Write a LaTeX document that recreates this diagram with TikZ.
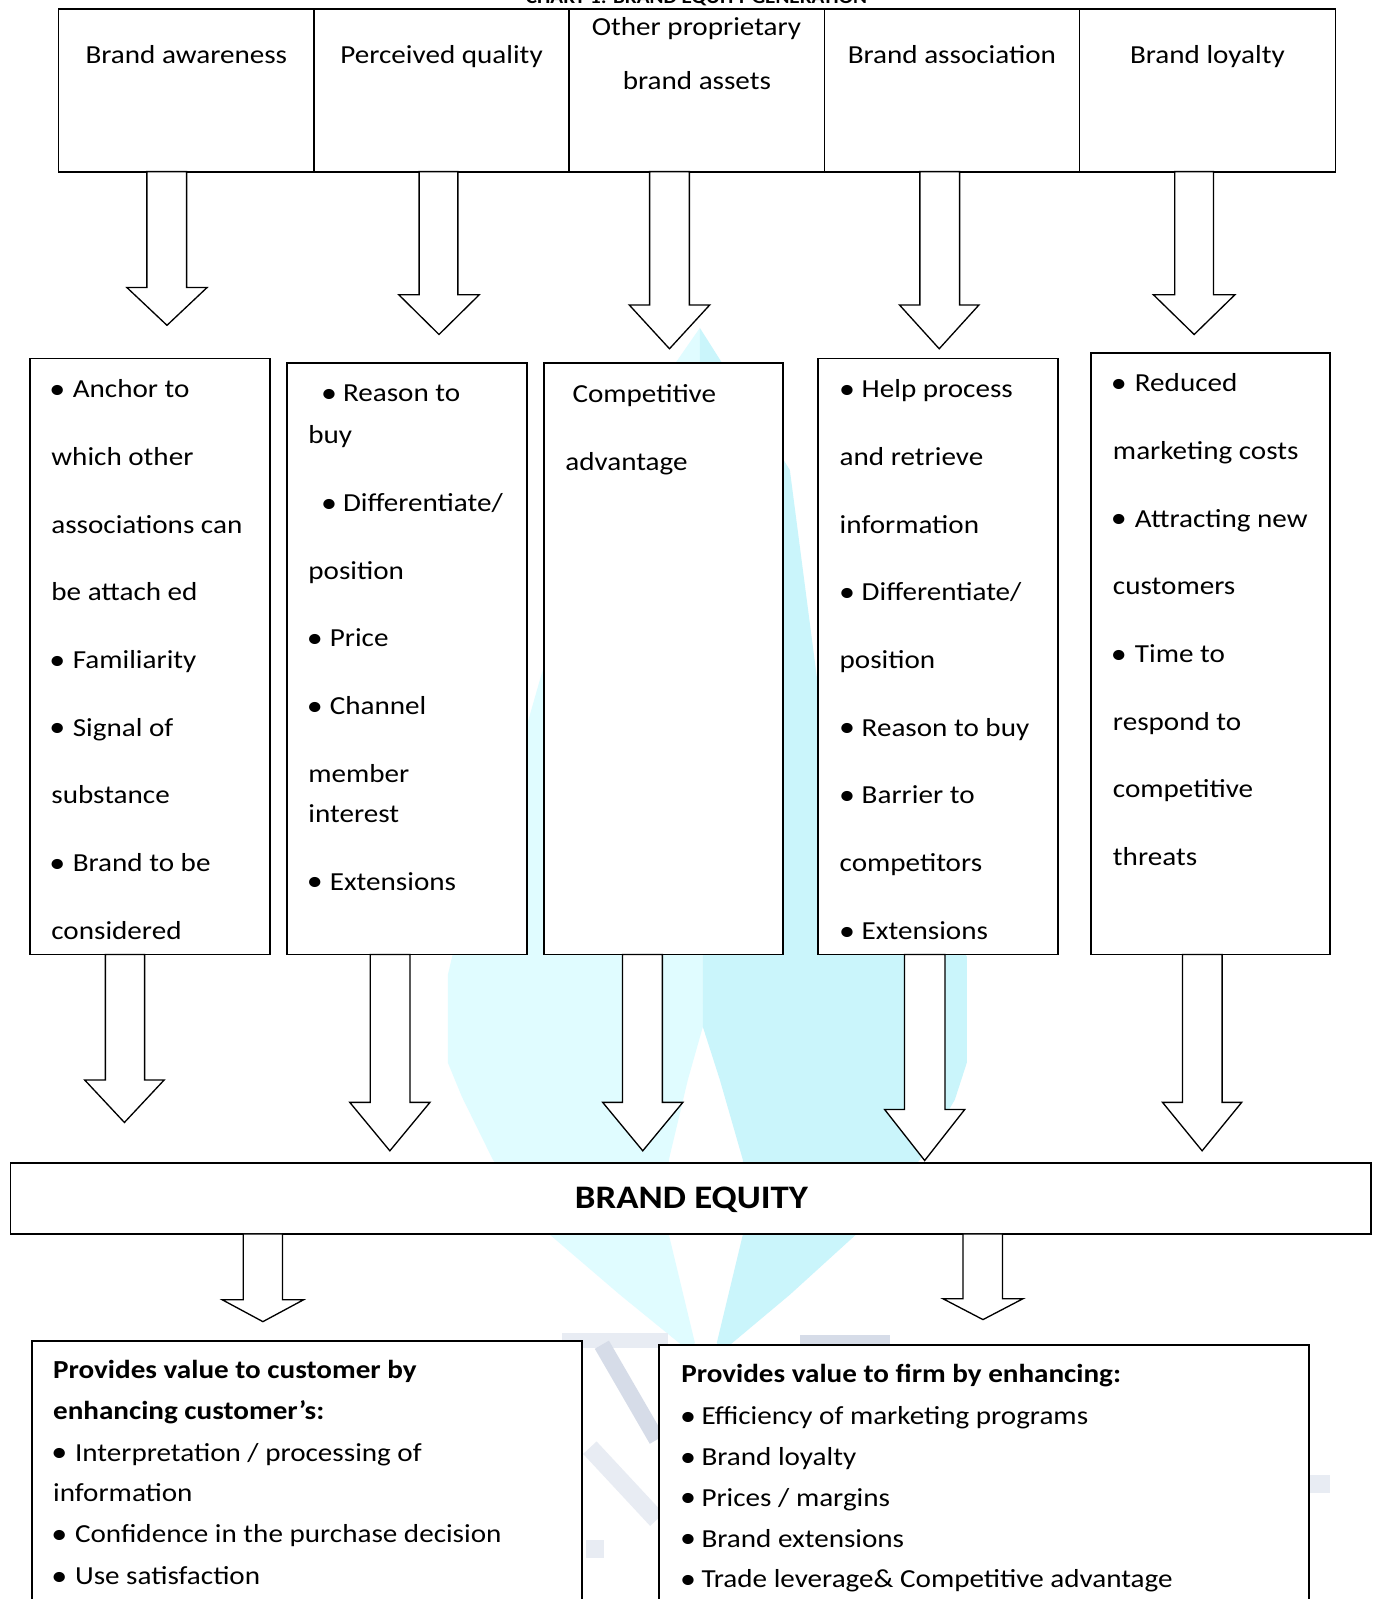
\documentclass[tikz,border=0pt]{standalone}
\usepackage{fontspec}
\setmainfont{Carlito}[FakeStretch=1.12]
\usetikzlibrary{fit}

\definecolor{wmleft}{RGB}{224,252,255}
\definecolor{wmright}{RGB}{202,245,251}
\definecolor{wmgray}{RGB}{214,220,232}
\definecolor{wmgraylt}{RGB}{232,236,243}

\tikzset{
  x=0.5pt, y=-0.5pt,
  frame/.style={draw=black, line width=0.9pt, fill=white, inner sep=0pt, outer sep=0pt},
  thinframe/.style={frame, line width=0.7pt},
  blockarr/.style={draw=black, line width=0.65pt, fill=white, line join=miter},
  body/.style={anchor=base west, inner sep=0pt, font=\fontsize{12.75}{15}\selectfont},
  bodyb/.style={body, font=\fontsize{12.75}{15}\selectfont\bfseries},
  head/.style={anchor=base, inner sep=0pt, font=\fontsize{12.75}{15}\selectfont},
}

% a plain text line
\newcommand\tline[4]{\node[body] (#1) at (#2,#3) {#4};}
% a bulleted text line: bullet x, text x, baseline
\newcommand\bline[5]{%
  \node[body] (#1b) at (#2-1,#4) {\raisebox{-0.3pt}{\fontsize{14}{14}\selectfont •}};
  \node[body] (#1) at (#3,#4) {#5};}
% a rectangular panel spanning two corners
\newcommand\panel[5]{\node[frame, fit={(#2,#3) (#4,#5)}] (#1) {};}
% a hollow block arrow pointing down from a node
\newcommand\blockdown[7]{%
  \draw[blockarr] (#2,0 |- #1.south) -- (#2,#4) -- (#5,#4) -- ({(#5+#6)/2},#7)
    -- (#6,#4) -- (#3,#4) -- (#3,0 |- #1.south) -- cycle;}

\begin{document}
\begin{tikzpicture}
\useasboundingbox (0,0) rectangle (1351,1568);
\fill[white] (0,0) rectangle (1351,1568);

% faint background emblem
\begin{scope}[scale=0.98039]
  \fill[wmleft] (700,328) -- (650,400) -- (590,520) -- (540,680) -- (500,820)
    -- (462,915) -- (448,975) -- (448,1063) -- (462,1097) -- (493,1160)
    -- (550,1235) -- (620,1295) -- (690,1352) -- (695,1343) -- (669,1235)
    -- (669,1160) -- (688,1080) -- (703,1027) -- cycle;
  \fill[wmright] (700,328) -- (703,1027) -- (720,1080) -- (743,1160) -- (743,1235)
    -- (717,1343) -- (722,1352) -- (790,1295) -- (856,1235) -- (920,1160)
    -- (955,1100) -- (967,1063) -- (967,957) -- (930,870) -- (870,780)
    -- (820,700) -- (790,470) -- cycle;
  \fill[wmgraylt] (562,1333) rectangle (668,1348);
  \fill[wmgray] (800,1335) rectangle (890,1346);
  \draw[wmgray, line width=8pt] (602,1345) -- (657,1440);
  \draw[wmgraylt, line width=9pt] (590,1448) -- (657,1520);
  \fill[wmgraylt] (586,1540) rectangle (604,1558);
  \fill[wmgraylt] (1310,1475) rectangle (1330,1493);
\end{scope}

% title strip (cut by the page edge)
\node[anchor=base, inner sep=0pt, font=\fontsize{9.25}{11}\selectfont\bfseries]
  (title) at (683,3.2) {CHART 1: BRAND EQUITY GENERATION};

% top row of brand equity dimensions
\panel{c1}{57.3}{8.8}{307.7}{168.3}
\panel{c2}{307.7}{8.8}{558}{168.3}
\panel{c3}{558}{8.8}{808.5}{168.3}
\panel{c4}{808.5}{8.8}{1058.6}{168.3}
\panel{c5}{1058.6}{8.8}{1309.6}{168.3}
\node[head] (h1) at (182.7,62) {Brand awareness};
\node[head] (h2) at (433,62) {Perceived quality};
\node[head] (h3a) at (683,35.3) {Other proprietary};
\node[head] (h3b) at (683.4,88.2) {brand assets};
\node[head] (h4) at (933.4,62) {Brand association};
\node[head] (h5) at (1184,62) {Brand loyalty};

% middle column boxes
\panel{m1}{29.4}{351.6}{265}{936}
\panel{m2}{281.2}{356.2}{516.5}{936}
\panel{m3}{533.7}{356}{768}{936}
\panel{m4}{802}{351.6}{1037.6}{936}
\panel{m5}{1069.6}{346.1}{1304.3}{936}

% arrows from the dimensions to the boxes
\blockdown{c1}{144}{183}{282}{124.5}{203}{319}
\blockdown{c2}{411}{449}{289}{391}{470}{328}
\blockdown{c3}{637}{676}{299}{617}{696}{342}
\blockdown{c4}{902}{941}{299}{882}{960}{342}
\blockdown{c5}{1152}{1190}{289}{1131}{1211}{328}

% brand equity bar
\node[thinframe, fit={(10.5,1140.6) (1344.6,1210)}] (eq) {};
\node[anchor=base, inner sep=0pt, font=\fontsize{16.1}{19}\selectfont\bfseries]
  (eqt) at (678,1184.6) {BRAND EQUITY};

% arrows from the boxes to brand equity
\blockdown{m1}{103.3}{141.8}{1059}{83}{161}{1100.7}
\blockdown{m2}{363}{402}{1081}{343}{421.6}{1128.5}
\blockdown{m3}{610.5}{649.5}{1081}{591}{669.6}{1128.5}
\blockdown{m4}{887}{926.7}{1088}{867.5}{946}{1138}
\blockdown{m5}{1159.5}{1198.4}{1081}{1140}{1217.6}{1128.5}

% arrows to the two value boxes
\blockdown{eq}{238.5}{277}{1274.6}{218}{297.6}{1296}
\blockdown{eq}{944.4}{983}{1273.5}{924.6}{1003.2}{1294}

% value boxes (running past the lower edge)
\panel{vl}{31}{1314.7}{571}{1640}
\panel{vr}{646}{1318.6}{1283.6}{1640}

% box texts
\bline{m1a}{49}{71}{390}{Anchor to}
\tline{m1b}{50}{456.4}{which other}
\tline{m1c}{50}{522.8}{associations can}
\tline{m1d}{50}{589.2}{be attach ed}
\bline{m1e}{49}{71}{655.6}{Familiarity}
\bline{m1f}{49}{71}{722}{Signal of}
\tline{m1g}{50}{788.4}{substance}
\bline{m1h}{49}{71}{854.8}{Brand to be}
\tline{m1i}{50}{921.2}{considered}

\bline{m2a}{315.5}{336}{394}{Reason to}
\tline{m2b}{302}{435}{buy}
\bline{m2c}{315.5}{336}{502}{Differentiate/}
\tline{m2d}{302}{568}{position}
\bline{m2e}{301.5}{323}{634}{Price}
\bline{m2f}{301.5}{323}{701}{Channel}
\tline{m2g}{302}{767}{member}
\tline{m2h}{302}{807}{interest}
\bline{m2i}{301.5}{323}{873}{Extensions}

\tline{m3a}{561}{394.4}{Competitive}
\tline{m3b}{554}{461.3}{advantage}

\bline{m4a}{823.5}{844.6}{390}{Help process}
\tline{m4b}{823}{456.4}{and retrieve}
\tline{m4c}{823}{522.8}{information}
\bline{m4d}{823.5}{844.6}{589.2}{Differentiate/}
\tline{m4e}{823}{655.6}{position}
\bline{m4f}{823.5}{844.6}{722}{Reason to buy}
\bline{m4g}{823.5}{844.6}{788.4}{Barrier to}
\tline{m4h}{823}{854.8}{competitors}
\bline{m4i}{823.5}{844.6}{921.2}{Extensions}

\bline{m5a}{1090}{1112.5}{384}{Reduced}
\tline{m5b}{1091}{450.4}{marketing costs}
\bline{m5c}{1090}{1112.5}{516.8}{Attracting new}
\tline{m5d}{1091}{583.2}{customers}
\bline{m5e}{1090}{1112.5}{649.6}{Time to}
\tline{m5f}{1091}{716}{respond to}
\tline{m5g}{1091}{782.4}{competitive}
\tline{m5h}{1091}{848.8}{threats}

\node[bodyb] (l1) at (51.7,1352) {Provides value to customer by};
\node[bodyb] (l2) at (51.7,1391.5) {enhancing customer’s:};
\bline{l3}{51}{73.2}{1433}{Interpretation / processing of}
\tline{l4}{51.7}{1472}{information}
\bline{l5}{51}{73.2}{1513}{Confidence in the purchase decision}
\bline{l6}{51}{73.2}{1554}{Use satisfaction}

\node[bodyb] (r1) at (667.7,1355.6) {Provides value to firm by enhancing:};
\bline{r2}{667.5}{687.5}{1397}{Efficiency of marketing programs}
\bline{r3}{667.5}{687.5}{1437}{Brand loyalty}
\bline{r4}{667.5}{687.5}{1477}{Prices / margins}
\bline{r5}{667.5}{687.5}{1517}{Brand extensions}
\bline{r6}{667.5}{687.5}{1557}{Trade leverage\& Competitive advantage}
\end{tikzpicture}
\end{document}
